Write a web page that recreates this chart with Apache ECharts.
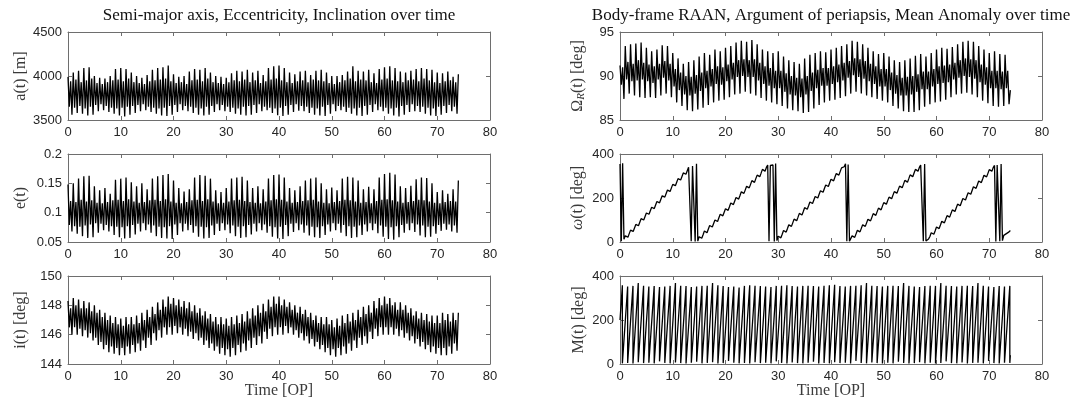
<!DOCTYPE html>
<html><head><meta charset="utf-8">
<script src="https://cdn.jsdelivr.net/npm/echarts@6/dist/echarts.min.js"></script>
<style>html,body{margin:0;padding:0;background:#fff}#c{width:1091px;height:405px}</style>
</head><body><div id="c"></div>
<script>
// ---------------- DATA ----------------
// Time axis: orbital periods, sampled 4 times per OP for the oscillating elements
const opCount = 74;
const subSteps = [0, 0.25, 0.5, 0.75];
const xTicks = [0, 10, 20, 30, 40, 50, 60, 70, 80];

// a(t) [m]: per OP -> upper spike, inner low, inner high, lower spike
const aHi = [3990,4040,4060,4090,4100,4000,3980,3970,4000,4080,4090,4080,4040,4000,3980,4010,4070,4090,4100,4120,4020,3990,4000,4050,4080,4070,4090,4040,4000,3990,3980,4030,4060,4050,4070,4040,4060,4010,4090,4110,4120,4090,4040,4020,4050,4060,4010,4060,4070,4040,4000,4000,4010,4050,4110,4060,4050,4070,4030,4080,4100,4110,4090,4050,4040,4060,4080,4090,4080,4070,4040,4030,4050,3990];
const aInLo = [3650,3640,3660,3630,3650,3670,3680,3660,3640,3630,3640,3650,3660,3670,3680,3650,3640,3630,3640,3660,3670,3680,3660,3650,3640,3630,3650,3660,3680,3670,3650,3640,3630,3650,3660,3670,3680,3650,3640,3630,3640,3660,3670,3680,3660,3650,3640,3630,3650,3670,3680,3660,3650,3640,3630,3640,3660,3670,3680,3650,3640,3630,3640,3660,3670,3680,3660,3650,3640,3630,3650,3660,3670,3650];
const aInHi = [3940,3960,3930,3950,3970,3920,3910,3930,3950,3960,3940,3970,3930,3920,3910,3940,3950,3960,3970,3940,3920,3930,3910,3950,3960,3940,3970,3930,3920,3910,3930,3950,3940,3960,3930,3950,3920,3940,3960,3970,3950,3930,3920,3940,3950,3930,3960,3950,3940,3920,3910,3930,3950,3970,3940,3960,3950,3930,3920,3960,3970,3950,3940,3930,3950,3960,3940,3970,3950,3930,3920,3940,3950,3930];
const aLo = [3560,3580,3570,3550,3560,3600,3610,3590,3570,3550,3540,3560,3580,3600,3610,3590,3570,3550,3545,3560,3590,3610,3600,3580,3560,3550,3560,3590,3610,3600,3590,3570,3560,3550,3560,3580,3600,3610,3580,3555,3545,3560,3590,3605,3600,3580,3560,3550,3545,3570,3600,3610,3590,3570,3550,3545,3560,3590,3610,3600,3570,3550,3540,3560,3590,3600,3590,3570,3550,3545,3560,3580,3600,3570];
const aEnd = 4020;

// e(t)
const eHi = [0.148,0.150,0.158,0.162,0.163,0.145,0.138,0.142,0.132,0.156,0.158,0.160,0.152,0.145,0.150,0.140,0.158,0.162,0.164,0.166,0.155,0.142,0.136,0.140,0.160,0.164,0.163,0.158,0.138,0.135,0.142,0.158,0.160,0.161,0.155,0.142,0.145,0.140,0.158,0.164,0.165,0.160,0.142,0.138,0.145,0.155,0.158,0.160,0.150,0.140,0.143,0.138,0.158,0.161,0.160,0.155,0.140,0.144,0.140,0.160,0.166,0.168,0.165,0.145,0.142,0.146,0.157,0.160,0.159,0.150,0.135,0.138,0.132,0.140];
const eInLo = [0.079,0.077,0.076,0.078,0.080,0.082,0.081,0.079,0.077,0.076,0.075,0.077,0.079,0.081,0.082,0.080,0.078,0.076,0.075,0.077,0.080,0.082,0.081,0.079,0.077,0.076,0.075,0.078,0.081,0.082,0.080,0.078,0.076,0.077,0.079,0.081,0.082,0.080,0.077,0.075,0.076,0.079,0.081,0.082,0.080,0.078,0.076,0.075,0.077,0.080,0.082,0.081,0.079,0.077,0.076,0.078,0.080,0.082,0.081,0.078,0.076,0.075,0.077,0.079,0.081,0.082,0.080,0.078,0.076,0.077,0.079,0.081,0.080,0.078];
const eInHi = [0.120,0.118,0.122,0.119,0.121,0.117,0.116,0.118,0.121,0.122,0.120,0.123,0.119,0.117,0.118,0.121,0.122,0.120,0.123,0.119,0.117,0.116,0.118,0.121,0.122,0.120,0.123,0.119,0.116,0.117,0.119,0.121,0.122,0.120,0.118,0.117,0.116,0.119,0.121,0.123,0.122,0.119,0.117,0.118,0.120,0.121,0.122,0.119,0.117,0.116,0.118,0.120,0.122,0.121,0.119,0.117,0.118,0.116,0.120,0.122,0.123,0.121,0.119,0.117,0.118,0.120,0.122,0.121,0.119,0.117,0.116,0.118,0.120,0.119];
const eLo = [0.068,0.064,0.060,0.057,0.058,0.066,0.070,0.068,0.062,0.058,0.056,0.057,0.063,0.068,0.070,0.066,0.060,0.057,0.056,0.055,0.062,0.068,0.070,0.066,0.059,0.056,0.057,0.062,0.069,0.070,0.065,0.060,0.057,0.058,0.063,0.068,0.070,0.066,0.059,0.056,0.055,0.060,0.067,0.070,0.066,0.061,0.058,0.057,0.062,0.068,0.070,0.066,0.060,0.057,0.058,0.062,0.068,0.070,0.065,0.059,0.055,0.054,0.058,0.066,0.070,0.067,0.061,0.058,0.059,0.064,0.069,0.071,0.068,0.066];
const eEnd = 0.155;

// i(t) [deg]
const iHi = [148.3,148.5,148.4,148.3,148.2,148.0,147.7,147.5,147.3,147.2,147.1,147.2,147.2,147.3,147.5,147.7,147.9,148.2,148.4,148.6,148.5,148.4,148.3,148.2,148.0,147.8,147.6,147.4,147.2,147.2,147.1,147.2,147.3,147.4,147.6,147.8,148.0,148.1,148.4,148.6,148.6,148.4,148.2,148.0,147.9,147.7,147.5,147.3,147.2,147.2,147.0,147.1,147.3,147.4,147.5,147.7,147.9,148.0,148.3,148.5,148.6,148.5,148.2,148.2,148.0,147.8,147.6,147.5,147.4,147.3,147.3,147.5,147.4,147.5];
const iInLo = [146.5,146.5,146.4,146.3,146.1,145.8,145.5,145.3,145.2,145.1,145.1,145.2,145.3,145.4,145.6,145.8,146.1,146.3,146.5,146.5,146.6,146.5,146.4,146.2,146.1,145.8,145.6,145.4,145.2,145.1,145.0,145.1,145.3,145.4,145.6,145.8,145.9,146.2,146.4,146.5,146.5,146.6,146.5,146.3,146.1,145.9,145.7,145.5,145.3,145.1,145.0,145.1,145.2,145.4,145.6,145.8,145.9,146.2,146.4,146.5,146.5,146.5,146.4,146.3,146.1,145.9,145.7,145.5,145.3,145.2,145.1,145.1,145.2,145.4];
const iInHi = [147.8,148.0,147.8,147.8,147.6,147.5,147.2,147.0,146.8,146.7,146.6,146.7,146.7,146.8,147.0,147.2,147.4,147.7,147.9,148.1,148.0,147.9,147.8,147.6,147.5,147.3,147.1,146.9,146.7,146.7,146.6,146.7,146.8,146.9,147.1,147.3,147.5,147.6,147.9,148.1,148.0,147.9,147.7,147.5,147.4,147.2,147.0,146.8,146.7,146.7,146.5,146.6,146.8,146.9,147.0,147.2,147.4,147.5,147.8,148.0,148.1,148.0,147.7,147.7,147.5,147.3,147.1,147.0,146.9,146.8,146.8,147.0,146.9,147.0];
const iLo = [146.0,146.0,145.9,145.8,145.6,145.3,145.0,144.8,144.7,144.6,144.6,144.7,144.8,144.9,145.1,145.3,145.6,145.8,146.0,146.0,146.1,146.0,145.9,145.7,145.6,145.3,145.1,144.9,144.7,144.6,144.5,144.6,144.8,144.9,145.1,145.3,145.4,145.7,145.9,146.0,146.0,146.1,146.0,145.8,145.6,145.4,145.2,145.0,144.8,144.6,144.5,144.6,144.7,144.9,145.1,145.3,145.4,145.7,145.9,146.0,146.0,146.0,145.9,145.8,145.6,145.4,145.2,145.0,144.8,144.7,144.6,144.6,144.7,144.9];
const iEnd = 147.5;

// Omega_R(t) [deg]
const wHi = [91.2,93.4,93.6,93.7,93.8,93.2,92.8,93.0,93.5,93.4,92.6,92.0,91.4,91.6,91.8,92.2,92.6,92.4,93.0,92.8,93.2,93.4,93.8,94.0,93.9,94.1,93.6,93.0,92.8,92.6,92.8,92.2,91.8,91.6,91.4,92.0,92.4,92.6,92.8,92.7,93.0,93.2,93.4,93.6,94.0,93.9,93.6,93.2,92.8,92.5,92.6,92.2,91.8,91.6,91.8,92.0,92.3,92.5,92.2,92.6,93.0,93.2,93.1,93.3,93.6,93.9,94.0,93.9,93.4,93.0,92.6,92.8,92.5,92.4];
const wInLo = [89.0,89.6,89.4,89.5,89.6,89.4,89.2,89.6,89.8,89.5,88.8,88.4,87.9,87.8,88.0,88.3,88.6,88.8,89.1,89.0,89.4,89.6,89.9,90.0,89.9,89.9,89.5,89.1,88.9,88.6,88.6,88.2,87.9,87.8,87.6,87.9,88.3,88.6,88.9,88.9,89.1,89.3,89.5,89.8,90.1,89.9,89.7,89.4,89.1,88.8,88.8,88.4,88.0,87.8,87.8,87.9,88.2,88.5,88.5,88.8,89.1,89.2,89.3,89.6,89.8,90.0,89.9,89.7,89.3,89.0,88.6,88.6,88.5,88.6];
const wInHi = [91.0,91.6,91.4,91.8,91.5,91.3,91.1,91.4,91.7,91.4,90.8,90.4,90.0,89.9,90.1,90.4,90.6,90.8,91.1,91.0,91.3,91.5,91.8,91.9,91.8,91.9,91.5,91.1,90.9,90.6,90.6,90.3,90.0,89.8,89.7,90.0,90.4,90.7,90.9,90.9,91.1,91.3,91.5,91.7,92.0,91.9,91.7,91.4,91.1,90.8,90.8,90.4,90.1,89.8,89.9,90.0,90.2,90.5,90.5,90.8,91.1,91.2,91.3,91.5,91.8,92.0,91.9,91.8,91.3,91.0,90.6,90.6,90.5,90.6];
const wLo = [87.4,88.0,87.8,87.6,87.5,87.6,87.5,87.8,88.0,87.6,87.0,86.6,86.1,86.0,86.2,86.4,86.7,87.0,87.2,87.3,87.6,87.9,88.0,88.2,88.0,87.8,87.5,87.2,87.0,86.8,86.6,86.3,86.1,86.0,85.8,85.9,86.3,86.7,87.0,87.2,87.3,87.5,87.7,88.0,88.2,88.0,87.8,87.6,87.4,87.2,87.0,86.6,86.3,86.0,85.9,85.9,86.1,86.5,86.8,87.0,87.1,87.3,87.6,87.9,88.0,88.1,87.9,87.6,87.2,86.9,86.6,86.5,86.6,86.8];
const wEnd = 88.4;

// omega(t) [deg], sampled every 0.25 OP from t = 0
const omegaStep = 0.25;
const omegaVals = [
355,3,358,12, 28,25,22,38, 54,51,48,64, 80,77,74,90, 106,103,100,116,
132,129,126,142, 158,155,152,168, 184,181,178,194, 210,207,204,220, 236,233,230,246,
262,259,256,272, 288,285,282,298, 314,311,308,324, 340,337,3,345, 352,2,356,4,
24,20,17,33, 50,46,42,59, 75,71,68,84, 100,97,93,110, 126,122,119,135,
151,148,144,160, 177,173,170,186, 202,199,195,211, 228,224,221,237, 253,250,246,262,
279,275,271,288, 304,301,297,313, 330,326,322,339, 350,3,348,354, 350,2,357,6,
26,22,19,35, 52,48,45,61, 78,74,71,87, 104,100,97,113, 130,126,123,139,
156,152,149,165, 182,178,175,191, 207,204,200,217, 233,230,226,243, 259,256,252,269,
285,282,278,295, 311,308,304,321, 337,334,342,356, 3,352,4,12, 28,24,21,37,
53,49,46,62, 78,75,71,87, 103,100,96,112, 129,125,121,138, 154,150,146,163,
179,175,172,188, 204,200,197,213, 229,226,222,238, 254,251,247,263, 280,276,272,288,
305,301,297,314, 330,326,322,339, 350,358,3,355, 5,12,14,25, 42,38,35,51,
68,64,61,77, 94,90,87,103, 120,116,113,130, 146,143,139,156, 172,169,165,182,
198,195,191,208, 224,221,217,234, 251,247,244,260, 277,273,270,286, 303,299,296,312,
329,325,322,338, 348,2,350,356, 3,354,6,30, 24,38,32,46, 52];

// M(t) [deg]: wrap times, value just before wrap, value just after wrap
const mStart = [0, 200];
const mWrapT = [0.45,1.45,2.46,3.46,4.47,5.47,6.48,7.49,8.49,9.50,10.51,11.51,12.52,13.52,14.53,15.54,16.54,17.55,18.56,19.56,20.57,21.57,22.58,23.59,24.59,25.60,26.61,27.61,28.62,29.62,30.63,31.64,32.64,33.65,34.66,35.66,36.67,37.67,38.68,39.69,40.69,41.70,42.71,43.71,44.72,45.72,46.73,47.74,48.74,49.75,50.76,51.76,52.77,53.77,54.78,55.79,56.79,57.80,58.81,59.81,60.82,61.82,62.83,63.84,64.84,65.85,66.86,67.86,68.87,69.87,70.88,71.89,72.89,73.90];
const mTop = [358,352,355,368,356,352,354,350,352,355,368,356,354,350,352,355,356,368,358,354,350,352,348,355,358,356,354,352,350,355,356,358,354,352,355,356,354,352,356,358,360,354,352,355,356,358,368,356,354,352,355,356,354,368,355,352,350,354,356,355,368,356,354,352,355,356,354,368,356,352,350,354,352,355];
const mBot = [3,5,2,8,4,6,3,12,5,3,7,4,2,6,10,3,5,8,2,4,14,6,3,5,2,8,4,6,3,12,5,2,7,4,3,6,10,2,5,3,8,4,6,2,14,5,3,7,4,2,6,3,10,5,2,4,8,3,6,2,5,12,4,3,7,2,5,6,3,14,4,2,6,5];
const mEnd = [74.0, 40];

// ---------------- BUILD ----------------
function buildOsc(hi, inLo, inHi, lo, endV) {
  const out = [];
  for (let k = 0; k < opCount; k++) {
    const vals = [hi[k], inLo[k], inHi[k], lo[k]];
    for (let j = 0; j < 4; j++) out.push([k + subSteps[j], vals[j]]);
  }
  out.push([opCount, endV]);
  return out;
}
const omegaData = omegaVals.map((v, i) => [i * omegaStep, v]);
const mData = [mStart];
for (let k = 0; k < mWrapT.length; k++) {
  mData.push([mWrapT[k], mTop[k]], [mWrapT[k], mBot[k]]);
}
mData.push(mEnd);

const seriesData = [
  buildOsc(aHi, aInLo, aInHi, aLo, aEnd),
  buildOsc(eHi, eInLo, eInHi, eLo, eEnd),
  buildOsc(iHi, iInLo, iInHi, iLo, iEnd),
  buildOsc(wHi, wInLo, wInHi, wLo, wEnd),
  omegaData,
  mData
];

const SERIF = '"Liberation Serif", "DejaVu Serif", serif';
const SANS = '"Liberation Sans", Arial, sans-serif';
const AX = '#6e6e6e';
const LAB = '#262626';
const NAMEC = '#3a3a3a';

const gridPos = [
  {left: 68, top: 32}, {left: 68, top: 154}, {left: 68, top: 276},
  {left: 620, top: 32}, {left: 620, top: 154}, {left: 620, top: 276}
];
const yCfg = [
  {min: 3500, max: 4500, interval: 500, name: 'a(t) [m]'},
  {min: 0.05, max: 0.2, interval: 0.05, name: 'e(t)'},
  {min: 144, max: 150, interval: 2, name: 'i(t) [deg]'},
  {min: 85, max: 95, interval: 5, name: '{n|Ω}{s|R}{n|(t) [deg]}'},
  {min: 0, max: 400, interval: 200, name: '{w|ω}{n|(t) [deg]}'},
  {min: 0, max: 400, interval: 200, name: 'M(t) [deg]'}
];
const plainNum = v => String(Math.round(v * 10000) / 10000);

const grid = [], xAxis = [], yAxis = [], series = [];
gridPos.forEach((g, gi) => {
  grid.push({left: g.left, top: g.top, width: 422, height: 88, containLabel: false});
  const tick = {show: true, inside: true, length: 4, lineStyle: {color: AX, width: 1}};
  const line = {show: true, onZero: false, lineStyle: {color: AX, width: 1}};
  xAxis.push({
    type: 'value', gridIndex: gi, position: 'bottom', min: 0, max: 80, interval: 10,
    axisLine: line, axisTick: tick, splitLine: {show: false},
    axisLabel: {color: LAB, fontFamily: SANS, fontSize: 13, margin: 6, formatter: plainNum}
  });
  xAxis.push({
    type: 'value', gridIndex: gi, position: 'top', min: 0, max: 80, interval: 10,
    axisLine: line, axisTick: tick, splitLine: {show: false}, axisLabel: {show: false}
  });
  const c = yCfg[gi];
  const right = gi >= 3;
  yAxis.push({
    type: 'value', gridIndex: gi, position: 'left', min: c.min, max: c.max, interval: c.interval,
    axisLine: line, axisTick: tick, splitLine: {show: false},
    axisLabel: {color: LAB, fontFamily: SANS, fontSize: 13, margin: 6, formatter: plainNum},
    name: c.name, nameLocation: 'middle', nameRotate: 90, nameGap: right ? 33 : 39,
    nameTextStyle: {
      color: NAMEC, fontFamily: SERIF, fontSize: 16,
      rich: {
        n: {color: NAMEC, fontFamily: SERIF, fontSize: 16, lineHeight: 19},
        s: {color: NAMEC, fontFamily: SERIF, fontSize: 11, fontStyle: 'italic', verticalAlign: 'bottom', lineHeight: 14},
        w: {color: NAMEC, fontFamily: SERIF, fontSize: 16, fontStyle: 'italic', lineHeight: 19}
      }
    }
  });
  yAxis.push({
    type: 'value', gridIndex: gi, position: 'right', min: c.min, max: c.max, interval: c.interval,
    axisLine: line, axisTick: tick, splitLine: {show: false}, axisLabel: {show: false}
  });
  series.push({
    type: 'line', xAxisIndex: 2 * gi, yAxisIndex: 2 * gi, data: seriesData[gi],
    symbol: 'none', showSymbol: false, sampling: null, silent: true, clip: true,
    lineStyle: {color: '#000', width: 1.3}
  });
});

const graphic = [
  {type: 'text', x: 279, y: 7, style: {text: 'Semi-major axis, Eccentricity, Inclination over time', font: '17px ' + SERIF, fill: '#111', align: 'center', textAlign: 'center'}},
  {type: 'text', x: 831, y: 7, style: {text: 'Body-frame RAAN, Argument of periapsis, Mean Anomaly over time', font: '17px ' + SERIF, fill: '#111', align: 'center', textAlign: 'center'}},
  {type: 'text', x: 279, y: 383, style: {text: 'Time [OP]', font: '16px ' + SERIF, fill: NAMEC, align: 'center', textAlign: 'center'}},
  {type: 'text', x: 831, y: 383, style: {text: 'Time [OP]', font: '16px ' + SERIF, fill: NAMEC, align: 'center', textAlign: 'center'}}
];

const chart = echarts.init(document.getElementById('c'), null, {renderer: 'canvas'});
chart.setOption({animation: false, backgroundColor: '#fff', grid, xAxis, yAxis, series, graphic});
</script></body></html>
